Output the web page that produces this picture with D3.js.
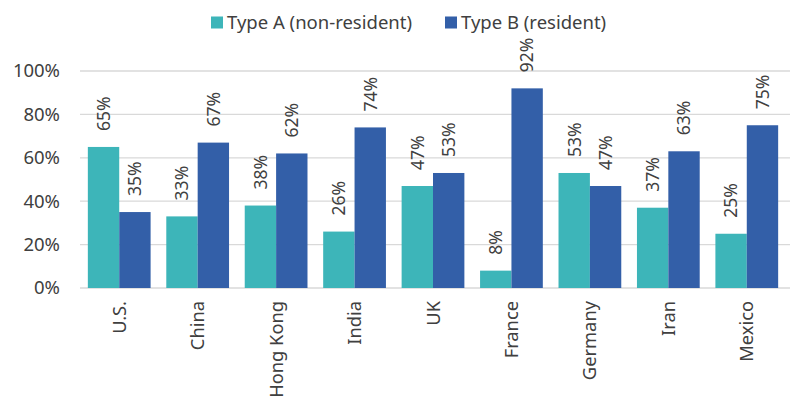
<!DOCTYPE html>
<html>
<head>
<meta charset="utf-8">
<script src="https://cdn.jsdelivr.net/npm/d3@7"></script>
<style>
  body { margin: 0; background: #fff; }
  text { font-family: "Noto Sans", sans-serif; fill: #404040; }
</style>
</head>
<body>
<svg width="790" height="400"></svg>
<script>
var categories = ["U.S.", "China", "Hong Kong", "India", "UK", "France", "Germany", "Iran", "Mexico"];
var seriesNames = ["Type A (non-resident)", "Type B (resident)"];
var typeA = [65, 33, 38, 26, 47, 8, 53, 37, 25];
var typeB = [35, 67, 62, 74, 53, 92, 47, 63, 75];
var yTicks = [0, 20, 40, 60, 80, 100];
var colors = ["#3db5b9", "#335fa8"];

var svg = d3.select("svg");
var margin = {left: 80, right: 4, top: 71, bottom: 112};
var width = 790 - margin.left - margin.right,
    height = 400 - margin.top - margin.bottom;

var g = svg.append("g").attr("transform", "translate(" + margin.left + "," + margin.top + ")");

var x = d3.scaleBand().domain(categories).range([0, width]).paddingInner(0.2).paddingOuter(0.1);
var xs = d3.scaleBand().domain([0, 1]).range([0, x.bandwidth()]);
var y = d3.scaleLinear().domain([0, 100]).range([height, 0]);

// gridlines
g.append("g")
  .selectAll("line")
  .data(yTicks)
  .enter().append("line")
  .attr("x1", 0).attr("x2", width + 4)
  .attr("y1", d => y(d)).attr("y2", d => y(d))
  .attr("stroke", "#d9d9d9")
  .attr("stroke-width", 1.3);

// y labels
g.append("g")
  .selectAll("text")
  .data(yTicks)
  .enter().append("text")
  .attr("x", -20)
  .attr("y", d => y(d))
  .attr("dy", "0.35em")
  .attr("text-anchor", "end")
  .style("font-size", "18.5px")
  .text(d => d + "%");

var rows = categories.map((c, i) => ({cat: c, vals: [typeA[i], typeB[i]]}));

var groups = g.selectAll(".grp")
  .data(rows)
  .enter().append("g")
  .attr("class", "grp")
  .attr("transform", d => "translate(" + x(d.cat) + ",0)");

groups.selectAll("rect")
  .data(d => d.vals.map((v, k) => ({k: k, v: v})))
  .enter().append("rect")
  .attr("x", d => xs(d.k))
  .attr("width", xs.bandwidth())
  .attr("y", d => y(d.v))
  .attr("height", d => height - y(d.v))
  .attr("fill", d => colors[d.k]);

groups.selectAll(".lbl")
  .data(d => d.vals.map((v, k) => ({k: k, v: v})))
  .enter().append("text")
  .attr("class", "lbl")
  .attr("transform", d => "translate(" + (xs(d.k) + xs.bandwidth() / 2) + "," + (y(d.v) - 16) + ") rotate(-90)")
  .attr("dy", "0.36em")
  .attr("text-anchor", "start")
  .style("font-size", "17.5px")
  .text(d => d.v + "%");

// category labels
g.append("g")
  .selectAll("text")
  .data(categories)
  .enter().append("text")
  .attr("transform", d => "translate(" + (x(d) + x.bandwidth() / 2) + "," + (height + 13) + ") rotate(-90)")
  .attr("dy", "0.36em")
  .attr("text-anchor", "end")
  .style("font-size", "18.3px")
  .text(d => d);

// legend
var legend = svg.append("g");
var lx = [211, 445];
seriesNames.forEach((s, i) => {
  legend.append("rect")
    .attr("x", lx[i]).attr("y", 16.5)
    .attr("width", 12).attr("height", 12)
    .attr("fill", colors[i]);
  legend.append("text")
    .attr("x", lx[i] + 16).attr("y", 22.5)
    .attr("dy", "0.35em")
    .style("font-size", "18.5px")
    .text(s);
});
</script>
</body>
</html>
